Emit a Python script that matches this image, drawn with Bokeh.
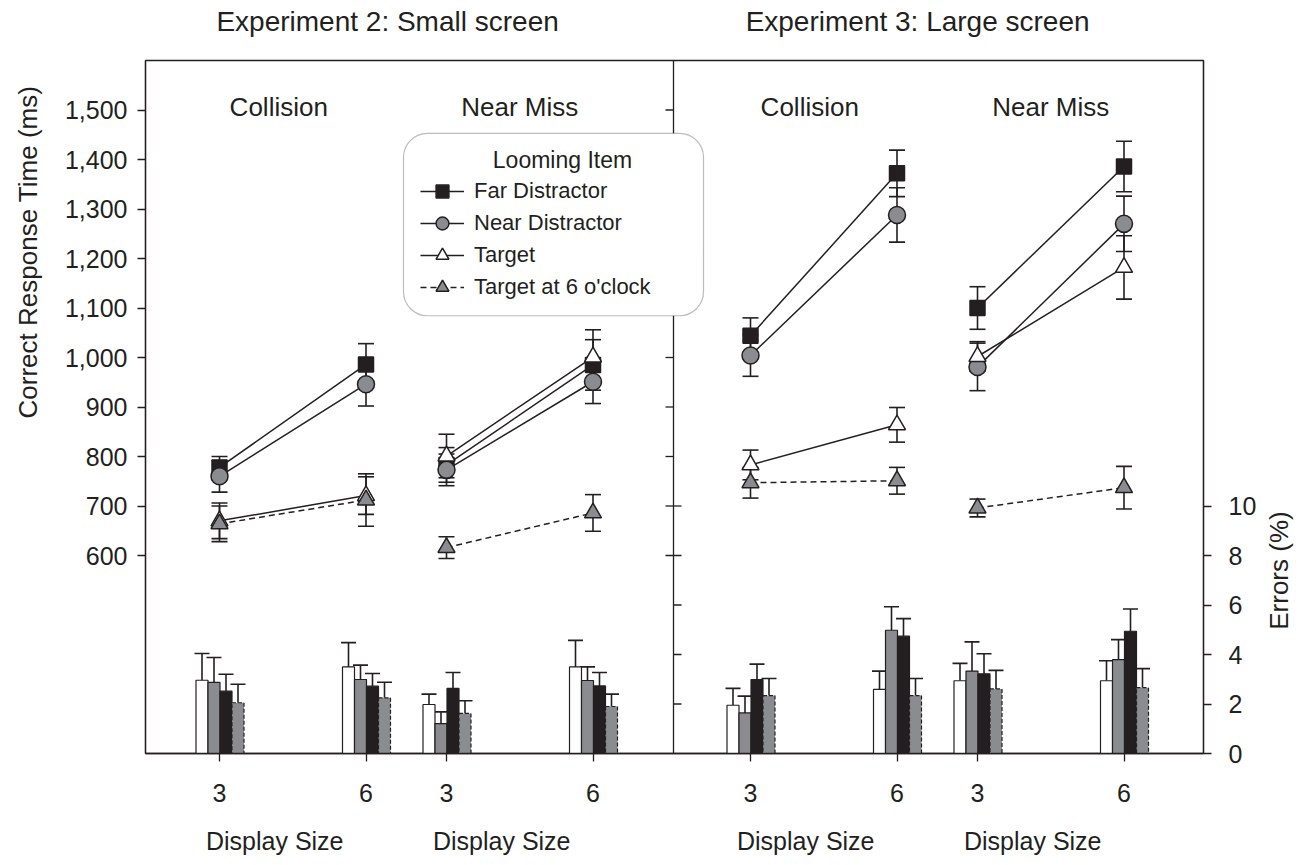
import math
from bokeh.plotting import figure
from bokeh.models import (Range1d, LinearAxis, FixedTicker, NumeralTickFormatter,
                          ColumnDataSource, Whisker, TeeHead, Span, BoxAnnotation,
                          Label, Legend, LegendItem)
from bokeh.embed import file_html
from bokeh.resources import INLINE

# ------------------------------------------------------------------ data
experiments = ["Experiment 2:  Small screen", "Experiment 3:  Large screen"]
conditions = ["Collision", "Near Miss"]
display_sizes = ["3", "6"]
series = ["Far Distractor", "Near Distractor", "Target", "Target at 6 o'clock"]
legend_title = "Looming Item"
x_title = "Display Size"
y_title = "Correct Response Time (ms)"
y2_title = "Errors (%)"

# cells: Exp2-Collision-3, Exp2-Collision-6, Exp2-NearMiss-3, Exp2-NearMiss-6,
#        Exp3-Collision-3, Exp3-Collision-6, Exp3-NearMiss-3, Exp3-NearMiss-6
rt_far = [778, 986, 783, 985, 1044, 1372, 1100, 1386]
rt_far_se = [22, 42, 35, 51, 36, 47, 43, 51]
rt_near = [760, 946, 773, 951, 1004, 1288, 981, 1270]
rt_near_se = [32, 44, 32, 44, 42, 55, 48, 56]
rt_target = [670, 721, 801, 1001, 783, 864, 1002, 1182]
rt_target_se = [36, 38, 44, 55, 30, 35, 30, 64]
rt_six = [664, 712, 616, 686, 747, 751, 696, 737]
rt_six_se = [36, 53, 22, 37, 31, 27, 18, 43]

err_far = [2.52, 2.72, 2.63, 2.73, 2.99, 4.74, 3.22, 4.94]
err_far_se = [0.68, 0.51, 0.64, 0.54, 0.62, 0.71, 0.81, 0.90]
err_near = [2.87, 2.99, 1.21, 2.95, 1.64, 4.98, 3.33, 3.79]
err_near_se = [1.01, 0.58, 0.47, 0.55, 0.68, 0.95, 1.18, 0.81]
err_target = [2.96, 3.50, 1.98, 3.50, 1.95, 2.59, 2.94, 2.94]
err_target_se = [1.08, 0.98, 0.42, 1.07, 0.68, 0.74, 0.70, 0.81]
err_six = [2.05, 2.25, 1.62, 1.90, 2.34, 2.34, 2.61, 2.66]
err_six_se = [0.75, 0.63, 0.51, 0.50, 0.69, 0.69, 0.75, 0.77]

rt_ticks = [600, 700, 800, 900, 1000, 1100, 1200, 1300, 1400, 1500]
err_ticks = [0, 2, 4, 6, 8, 10]

rt_data = {
    "Far Distractor": (rt_far, rt_far_se),
    "Near Distractor": (rt_near, rt_near_se),
    "Target": (rt_target, rt_target_se),
    "Target at 6 o'clock": (rt_six, rt_six_se),
}
err_data = {
    "Far Distractor": (err_far, err_far_se),
    "Near Distractor": (err_near, err_near_se),
    "Target": (err_target, err_target_se),
    "Target at 6 o'clock": (err_six, err_six_se),
}

# ------------------------------------------------------------------ layout / style
INK = "#231f20"
GRAY = "#8b8c90"
FONT = "Liberation Sans"

W, H = 1312, 857
BL, BT = 145, 60
FRAME_W, FRAME_H = 1058, 695
BR, BB = W - BL - FRAME_W, H - BT - FRAME_H
FRAME_L, FRAME_T = BL, BT
Y0, Y1 = 200, 1600            # ms range; errors axis: 0 % at 200 ms, 1 % = 50 ms
E0, E1 = 0, (Y1 - Y0) / 50.0


def dx(page_x):
    return page_x - FRAME_L


def dy(page_y):
    return Y1 - (page_y - FRAME_T) * (Y1 - Y0) / FRAME_H


first_slot, size_step, cond_step, exp_step = 74, 146.5, 227, 531
slot_x = [first_slot + e * exp_step + c * cond_step + s * size_step
          for e in range(2) for c in range(2) for s in range(2)]
divider_x = dx(673)

marker_style = {
    "Far Distractor": dict(marker="square", fill=INK, size=15, dash="solid"),
    "Near Distractor": dict(marker="circle", fill=GRAY, size=17, dash="solid"),
    "Target": dict(marker="triangle", fill="white", size=17, dash="solid"),
    "Target at 6 o'clock": dict(marker="triangle", fill=GRAY, size=17, dash="6 4"),
}
bar_order = ["Target", "Near Distractor", "Far Distractor", "Target at 6 o'clock"]
bar_fill = {"Target": "white", "Near Distractor": GRAY, "Far Distractor": INK,
            "Target at 6 o'clock": GRAY}
bar_dash = {"Target": "solid", "Near Distractor": "solid", "Far Distractor": "solid",
            "Target at 6 o'clock": "4 2"}
bar_offsets = [-17.5, -5.5, 6.5, 18.5]
bar_w = 12

# ------------------------------------------------------------------ figure
p = figure(width=W, height=H, output_backend="svg", toolbar_location=None,
           x_range=Range1d(0, FRAME_W), y_range=Range1d(Y0, Y1),
           x_axis_type=None, y_axis_type=None,
           min_border_left=BL, min_border_right=BR, min_border_top=BT, min_border_bottom=BB)
p.extra_y_ranges = {"err": Range1d(E0, E1)}
p.outline_line_color = INK
p.outline_line_width = 1.3
p.background_fill_color = "white"
p.border_fill_color = "white"


def style_axis(ax, size="25px"):
    ax.axis_line_color = INK
    ax.axis_line_width = 1.3
    ax.major_tick_line_color = INK
    ax.major_tick_line_width = 1.3
    ax.major_tick_out = 8
    ax.major_tick_in = 0
    ax.minor_tick_line_color = None
    ax.major_label_text_font = FONT
    ax.major_label_text_font_size = size
    ax.major_label_text_color = INK


def text_axis(ax, standoff, size="26px"):
    ax.axis_line_color = None
    ax.major_tick_line_color = None
    ax.minor_tick_line_color = None
    ax.major_tick_out = 0
    ax.major_tick_in = 0
    ax.major_label_text_font = FONT
    ax.major_label_text_font_size = size
    ax.major_label_text_color = INK
    ax.major_label_standoff = standoff


# bottom: display-size ticks, then the "Display Size" captions
xax = LinearAxis(ticker=FixedTicker(ticks=slot_x),
                 major_label_overrides={x: display_sizes[i % 2] for i, x in enumerate(slot_x)})
style_axis(xax)
xax.major_label_standoff = 22
p.add_layout(xax, "below")

group_mid = [(slot_x[i] + slot_x[i + 1]) / 2 for i in range(0, 8, 2)]
cap_x = [m - 18 for m in group_mid]
xcap = LinearAxis(ticker=FixedTicker(ticks=cap_x),
                  major_label_overrides={x: x_title for x in cap_x})
text_axis(xcap, 22, "25px")
p.add_layout(xcap, "below")

# top: experiment titles
title_x = [dx(391) + e * 530 for e in range(2)]
tax = LinearAxis(ticker=FixedTicker(ticks=title_x),
                 major_label_overrides={x: experiments[i] for i, x in enumerate(title_x)})
text_axis(tax, 24, "28px")
p.add_layout(tax, "above")

# left: RT axis and its title
yax = LinearAxis(ticker=FixedTicker(ticks=rt_ticks), formatter=NumeralTickFormatter(format="0,0"))
style_axis(yax)
yax.major_label_standoff = 10
p.add_layout(yax, "left")

ytitle_at = round(dy(252))
ytax = LinearAxis(ticker=FixedTicker(ticks=[ytitle_at]),
                  major_label_overrides={ytitle_at: y_title})
text_axis(ytax, 18)
ytax.major_label_orientation = "vertical"
p.add_layout(ytax, "left")

# right: errors axis and its title
eax = LinearAxis(y_range_name="err", ticker=FixedTicker(ticks=err_ticks))
style_axis(eax)
eax.major_label_standoff = 17
p.add_layout(eax, "right")

etitle_at = 5
etax = LinearAxis(y_range_name="err", ticker=FixedTicker(ticks=[etitle_at]),
                  major_label_overrides={etitle_at: y2_title})
text_axis(etax, 19)
etax.major_label_orientation = math.pi / 2
p.add_layout(etax, "right")

# divider between the two experiments, with its inward ticks
p.add_layout(Span(location=divider_x, dimension="height", line_color=INK,
                  line_width=1.3, level="underlay"))
p.segment(x0=[divider_x] * len(rt_ticks), x1=[divider_x - 8] * len(rt_ticks),
          y0=rt_ticks, y1=rt_ticks, line_color=INK, line_width=1.3)
p.segment(x0=[divider_x] * (len(err_ticks) - 1), x1=[divider_x + 8] * (len(err_ticks) - 1),
          y0=err_ticks[1:], y1=err_ticks[1:], line_color=INK, line_width=1.3,
          y_range_name="err")

# ---- error-rate bars
for k, s in enumerate(bar_order):
    vals, se = err_data[s]
    xs = [x + bar_offsets[k] for x in slot_x]
    src = ColumnDataSource(dict(x=xs, top=vals, hi=[v + e for v, e in zip(vals, se)]))
    p.vbar(x="x", top="top", bottom=0, width=bar_w, source=src, y_range_name="err",
           fill_color=bar_fill[s], line_color=INK, line_width=1.2, line_dash=bar_dash[s])
    p.add_layout(Whisker(source=src, base="x", lower="top", upper="hi", y_range_name="err",
                         line_color=INK, line_width=1.6, lower_head=None,
                         upper_head=TeeHead(size=15, line_color=INK, line_width=1.6)))

# ---- response-time lines
line_r, scat_r = {}, {}
for s in series:
    vals, se = rt_data[s]
    st = marker_style[s]
    xs = [[slot_x[i], slot_x[i + 1]] for i in range(0, 8, 2)]
    ys = [[vals[i], vals[i + 1]] for i in range(0, 8, 2)]
    line_r[s] = p.multi_line(xs=xs, ys=ys, line_color=INK, line_width=1.5, line_dash=st["dash"])
for s in series:
    vals, se = rt_data[s]
    src = ColumnDataSource(dict(x=slot_x, y=vals,
                                lo=[v - e for v, e in zip(vals, se)],
                                hi=[v + e for v, e in zip(vals, se)]))
    p.add_layout(Whisker(source=src, base="x", lower="lo", upper="hi",
                         line_color=INK, line_width=1.6,
                         lower_head=TeeHead(size=16, line_color=INK, line_width=1.6),
                         upper_head=TeeHead(size=16, line_color=INK, line_width=1.6)))
for s in series:
    st = marker_style[s]
    vals, se = rt_data[s]
    src = ColumnDataSource(dict(x=slot_x, y=vals))
    scat_r[s] = p.scatter(x="x", y="y", source=src, marker=st["marker"], size=st["size"],
                          fill_color=st["fill"], line_color=INK, line_width=1.5)

# ---- legend box
p.add_layout(BoxAnnotation(left=dx(403), right=dx(703), top=dy(133), bottom=dy(316),
                           border_radius=24, fill_color="white", fill_alpha=1.0,
                           line_color=INK, line_width=1.2))
p.add_layout(Label(x=dx(562), y=dy(160), text=legend_title, text_align="center",
                   text_baseline="middle", text_font=FONT, text_font_size="23px",
                   text_color=INK))
legend = Legend(items=[LegendItem(label=s, renderers=[line_r[s], scat_r[s]]) for s in series],
                location=(dx(420), FRAME_T + FRAME_H - 305), orientation="vertical",
                glyph_width=44, glyph_height=32, label_height=32, label_standoff=10,
                spacing=0, padding=0, margin=0,
                label_text_font=FONT, label_text_font_size="22px", label_text_color=INK,
                border_line_alpha=0, background_fill_alpha=0)
p.add_layout(legend)

# ---- condition names inside the panels
cond_shift = [-14, 0]
for e in range(2):
    for c, cond in enumerate(conditions):
        i = e * 2 + c
        p.add_layout(Label(x=group_mid[i] + cond_shift[c], y=dy(107), text=cond,
                           text_align="center", text_baseline="middle", text_font=FONT,
                           text_font_size="26px", text_color=INK))

open("out.html", "w").write(file_html(p, INLINE))
